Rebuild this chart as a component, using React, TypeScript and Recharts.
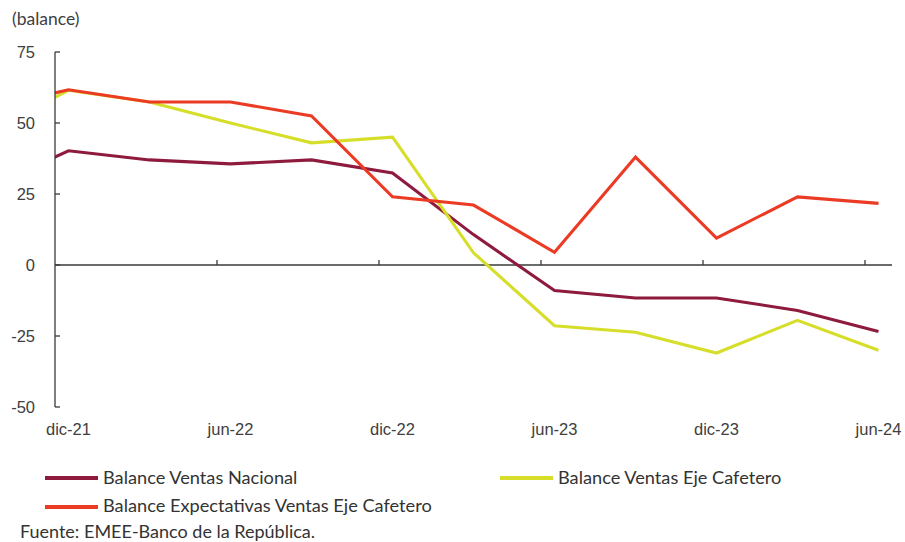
import React from 'react';
import { LineChart, Line, XAxis, YAxis, ReferenceLine } from 'recharts';

// quarterly points, month offset from dic-21 (the sep-21 point sits left of the axis and is clipped)
const months = [-3, 0, 3, 6, 9, 12, 15, 18, 21, 24, 27, 30];
const nacional = [27, 40.2, 37, 35.6, 37, 32.4, 10.7, -9, -11.6, -11.6, -16, -23.4];
const ejeCafetero = [47, 61.5, 57.4, 50, 43, 45, 4.3, -21.4, -23.7, -31, -19.5, -30];
const expectativas = [55, 61.7, 57.4, 57.4, 52.5, 24, 21.1, 4.5, 38, 9.5, 24, 21.7];

const labelMonths = [0, 6, 12, 18, 24, 30];
const tickLabels = ['dic-21', 'jun-22', 'dic-22', 'jun-23', 'dic-23', 'jun-24'];
const boundaryMonths = [5.5, 11.5, 17.5, 23.5, 29.5];
const yTicks = [-50, -25, 0, 25, 50, 75];

const seriesNames = ['Balance Ventas Nacional', 'Balance Ventas Eje Cafetero', 'Balance Expectativas Ventas Eje Cafetero'];
const colors = ['#8e1b3e', '#d6de2a', '#ec3b25'];

const data = months.map((m, i) => ({
    m,
    nacional: nacional[i],
    eje: ejeCafetero[i],
    expect: expectativas[i],
}));

const axisColor = '#3a3a3a';
const axisFont = '"Liberation Sans", Arial, sans-serif';
const textFont = 'Lato, "Open Sans", sans-serif';

const YTick = (props: any) => {
    const { x, y, payload } = props;
    return (
        <g>
            <text x={x} y={y} dy="0.36em" textAnchor="end" fill="#404040" fontSize={16.5} fontFamily={axisFont}>
                {payload.value}
            </text>
            <line x1={x + 20} x2={x + 25} y1={y} y2={y} stroke={axisColor} strokeWidth={1.3} />
        </g>
    );
};

const App: React.FC = () => {
    return (
        <div style={{ position: 'absolute', left: 0, top: 0, width: 905, height: 542, background: '#fff' }}>
            <LineChart width={905} height={450} data={data} margin={{ top: 52, right: 13, left: 0, bottom: 13 }}>
                <XAxis
                    type="number"
                    dataKey="m"
                    domain={[-0.5, 30.5]}
                    allowDataOverflow
                    ticks={labelMonths}
                    interval={0}
                    tickFormatter={(v: number) => tickLabels[labelMonths.indexOf(v)]}
                    axisLine={false}
                    tickLine={false}
                    tickSize={0}
                    tickMargin={16}
                    height={30}
                    tick={{ fill: '#404040', fontSize: 16.5, fontFamily: axisFont }}
                />
                <YAxis
                    domain={[-50, 75]}
                    ticks={yTicks}
                    interval={0}
                    width={55}
                    tickLine={false}
                    tickSize={0}
                    tickMargin={20}
                    axisLine={{ stroke: axisColor, strokeWidth: 1.3 }}
                    tick={<YTick />}
                />
                <ReferenceLine y={0} stroke={axisColor} strokeWidth={1.3} />
                {boundaryMonths.map((b) => (
                    <ReferenceLine
                        key={b}
                        segment={[{ x: b, y: 0 }, { x: b, y: 1.8 }]}
                        stroke={axisColor}
                        strokeWidth={1.3}
                    />
                ))}
                <Line type="linear" dataKey="nacional" stroke={colors[0]} strokeWidth={3.1} dot={false} isAnimationActive={false} />
                <Line type="linear" dataKey="eje" stroke={colors[1]} strokeWidth={3.1} dot={false} isAnimationActive={false} />
                <Line type="linear" dataKey="expect" stroke={colors[2]} strokeWidth={3.1} dot={false} isAnimationActive={false} />
            </LineChart>

            {/* labels and legend */}
            <svg width={905} height={542} style={{ position: 'absolute', left: 0, top: 0, pointerEvents: 'none' }}>
                <text x={12} y={25} fontSize={17.5} fill="#404040" fontFamily={textFont}>(balance)</text>

                <line x1={45} x2={98} y1={478} y2={478} stroke={colors[0]} strokeWidth={4} />
                <text x={103} y={483.5} fontSize={18.2} fill="#333" fontFamily={textFont}>{seriesNames[0]}</text>

                <line x1={500} x2={553} y1={478} y2={478} stroke={colors[1]} strokeWidth={4} />
                <text x={558} y={483.5} fontSize={18.2} fill="#333" fontFamily={textFont}>{seriesNames[1]}</text>

                <line x1={45} x2={98} y1={507} y2={507} stroke={colors[2]} strokeWidth={4} />
                <text x={103} y={512} fontSize={18.2} fill="#333" fontFamily={textFont}>{seriesNames[2]}</text>

                <text x={20} y={538} fontSize={18} fill="#333" fontFamily={textFont}>Fuente: EMEE-Banco de la República.</text>
            </svg>
        </div>
    );
};

export default App;
